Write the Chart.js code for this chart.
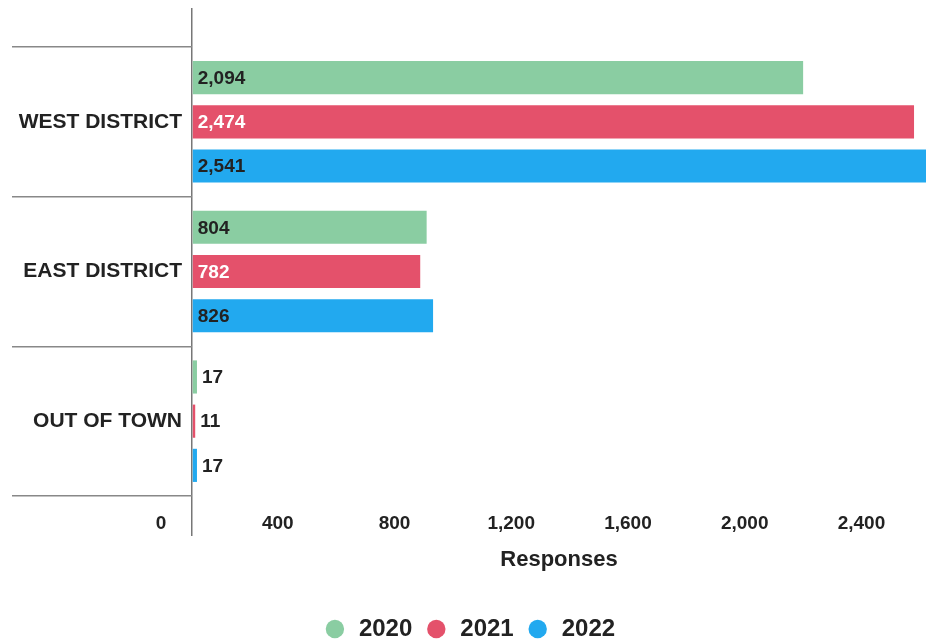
<!DOCTYPE html>
<html>
<head>
<meta charset="utf-8">
<script src="https://cdn.jsdelivr.net/npm/chart.js@4/dist/chart.umd.min.js"></script>
<style>
  html, body { margin: 0; padding: 0; background: #fff; }
  #wrap { width: 926px; height: 641px; }
</style>
</head>
<body>
<div id="wrap"><canvas id="responsesChart"></canvas></div>
<script>
var categories = ["WEST DISTRICT", "EAST DISTRICT", "OUT OF TOWN"];
var years = ["2020", "2021", "2022"];
var values2020 = [2094, 804, 17];
var values2021 = [2474, 782, 11];
var values2022 = [2541, 826, 17];
var xTicks = [0, 400, 800, 1200, 1600, 2000, 2400];
var barColors = ["#8acda2", "#e4516b", "#22a9ef"];
var insideLabelColors = ["#222", "#fff", "#222"];

var FONT = "'Liberation Sans', Arial, sans-serif";

// value labels at the start of each bar (or just past the short ones)
var valueLabels = {
    id: 'valueLabels',
    afterDatasetsDraw: function (chart) {
        var ctx = chart.ctx;
        ctx.save();
        ctx.font = "bold 19px " + FONT;
        ctx.textBaseline = 'middle';
        ctx.textAlign = 'left';
        chart.data.datasets.forEach(function (ds, i) {
            var meta = chart.getDatasetMeta(i);
            meta.data.forEach(function (bar, j) {
                var text = ds.data[j].toLocaleString('en-US');
                var w = ctx.measureText(text).width;
                if (Math.abs(bar.x - bar.base) > w + 12) {
                    ctx.fillStyle = insideLabelColors[i];
                    ctx.fillText(text, bar.base + 5, bar.y + 1);
                } else {
                    ctx.fillStyle = "#222";
                    ctx.fillText(text, bar.x + 5, bar.y + 1);
                }
            });
        });
        ctx.restore();
    }
};

function zeroOnly(c) {
    return c.tick && c.tick.value === 0 ? '#777' : 'rgba(0,0,0,0)';
}

let chart = new Chart("responsesChart", {
    type: "bar",
    data: {
        labels: categories,
        datasets: [
            { label: years[0], data: values2020, backgroundColor: barColors[0] },
            { label: years[1], data: values2021, backgroundColor: barColors[1] },
            { label: years[2], data: values2022, backgroundColor: barColors[2] }
        ]
    },
    options: {
        indexAxis: 'y',
        responsive: true,
        maintainAspectRatio: false,
        animation: false,
        datasets: {
            bar: { barPercentage: 0.75, categoryPercentage: 0.886 }
        },
        layout: { padding: { left: 12, right: 0, top: 8, bottom: -10 } },
        scales: {
            x: {
                position: 'bottom',
                min: 0,
                max: 2515,
                afterBuildTicks: function (axis) {
                    axis.ticks = xTicks.map(function (v) { return { value: v }; });
                },
                afterFit: function (axis) { axis.height = 109; },
                border: { display: false },
                grid: { color: zeroOnly, lineWidth: 1.5, tickLength: 40 },
                ticks: {
                    padding: -24,
                    labelOffset: -31,
                    color: '#222',
                    font: { family: FONT, size: 19, weight: 'bold' },
                    maxRotation: 0,
                    autoSkip: false,
                    callback: function (v) { return v.toLocaleString('en-US'); }
                },
                title: {
                    display: true,
                    text: 'Responses',
                    color: '#222',
                    font: { family: FONT, size: 22, weight: 'bold' },
                    padding: { top: 0, bottom: 32 }
                }
            },
            xTop: {
                axis: 'x',
                position: 'top',
                min: 0,
                max: 2515,
                afterBuildTicks: function (axis) {
                    axis.ticks = [{ value: 0 }];
                },
                border: { display: false },
                grid: { color: zeroOnly, lineWidth: 1.5, tickLength: 39, drawOnChartArea: false },
                ticks: { display: false }
            },
            y: {
                afterFit: function (axis) { axis.width = 180; },
                border: { display: false },
                grid: {
                    offset: true,
                    drawOnChartArea: false,
                    tickLength: 180,
                    color: '#888',
                    lineWidth: 1.5
                },
                ticks: {
                    padding: -170,
                    color: '#222',
                    font: { family: FONT, size: 21, weight: 'bold' }
                }
            }
        },
        plugins: {
            legend: {
                position: 'bottom',
                labels: {
                    usePointStyle: true,
                    pointStyle: 'circle',
                    boxHeight: 13,
                    padding: 12,
                    color: '#222',
                    font: { family: FONT, size: 24, weight: 'bold' }
                }
            },
            tooltip: { enabled: false }
        }
    },
    plugins: [valueLabels]
});
</script>
</body>
</html>
